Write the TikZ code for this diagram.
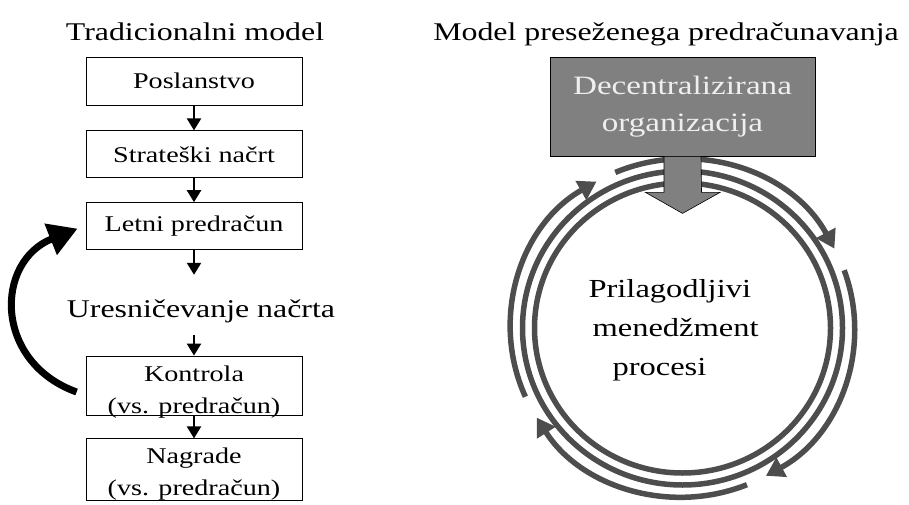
\documentclass[tikz,border=0pt]{standalone}
\usepackage{fontspec}
\setmainfont{Liberation Serif}[FakeStretch=1.25]
\usepackage{tikz}
\usetikzlibrary{arrows.meta, positioning, calc}
\definecolor{ringgray}{HTML}{4D4D4D}
\definecolor{boxgray}{HTML}{808080}
\definecolor{paletext}{HTML}{EFEFEF}

\begin{document}
\begin{tikzpicture}[
  x=1pt, y=-1pt,
  box/.style={rectangle, draw=black, line width=0.8pt, minimum width=216pt, align=center, inner xsep=2pt, inner ysep=0pt, font={\fontsize{22.5}{32}\selectfont}},
  arrow/.style={-{Triangle[width=14pt,length=12pt]}, line width=2.2pt},
  title/.style={font={\fontsize{25.5}{30}\selectfont}, anchor=base},
  ring/.style={draw=ringgray, line width=5.5pt},
  ringarrow/.style={ring, -{Triangle[width=21pt,length=18pt]}}
]
  \useasboundingbox (0,0) rectangle (909,505);

  % tradicionalni model
  \node[title] (tradtitle) at (195,41) {Tradicionalni model};
  \node[box, minimum height=48pt] (posl) at (194,81) {Poslanstvo};
  \node[box, minimum height=47pt, below=25pt of posl] (strat) {Strateški načrt};
  \node[box, minimum height=47pt, below=24pt of strat] (letni) {Letni predračun};
  \node[title, text height=19pt, text depth=6pt, inner sep=4pt] (plan) at (201,317) {Uresničevanje načrta};
  \node[box, minimum height=59pt] (kontrola) at (194,385.5) {\rule{0pt}{24pt}Kontrola\\\smash{(vs. predračun)}};
  \node[box, minimum height=62pt, below=23pt of kontrola] (nagrade) {\rule{0pt}{20pt}Nagrade\\\smash{(vs. predračun)}};

  \draw[arrow] (posl) -- (strat);
  \draw[arrow] (strat) -- (letni);
  \draw[arrow, shorten >=19pt] (letni.south) -- (letni.south |- plan.north);
  \draw[arrow, shorten <=8pt] (kontrola.north |- plan.south) -- (kontrola.north);
  \draw[arrow] (kontrola) -- (nagrade);

  % povratna zanka
  \draw[line width=7pt, -{Triangle[width=32pt,length=29pt]}] ([shift={(-9,6.5)}]kontrola.west)
    .. controls +(-83,-30) and +(-83,33) .. ([shift={(-8,2.5)}]letni.west);

  % model preseženega predračunavanja
  \node[title] (newtitle) at (666,41) {Model preseženega predračunavanja};
  \coordinate (cycle) at (682.5,328);
  \draw[ring] (cycle) ellipse [x radius=148, y radius=145];
  \draw[ring] (cycle) ellipse [x radius=160, y radius=157];
  \foreach \a/\b in {247/332, 340/421, 68/148, 156/240}
    \draw[ringarrow] (cycle) ++(\a:172 and 169) arc[start angle=\a, end angle=\b, x radius=172, y radius=169];

  \node[draw=black, line width=0.8pt, fill=boxgray, text=paletext, minimum width=265pt, minimum height=99pt,
        align=center, font={\fontsize{26.5}{37}\selectfont}] (decent) at (682.5,106.5) {Decentralizirana\\organizacija};
  \filldraw[fill=boxgray, draw=black, line width=0.6pt] ([xshift=-18.5pt]decent.south) -- ++(0,36) -- ++(-18.5,0)
    -- ($(decent.south)+(0,57)$) -- ++(37.5,-21) -- ++(-18.5,0) -- ([xshift=18.5pt]decent.south) -- cycle;

  \node[anchor=west, align=left, font={\fontsize{26}{39}\selectfont}] (procesi) at (585,330)
    {Prilagodljivi\\\hspace*{4pt}menedžment\\\hspace*{24pt}procesi};
\end{tikzpicture}
\end{document}
